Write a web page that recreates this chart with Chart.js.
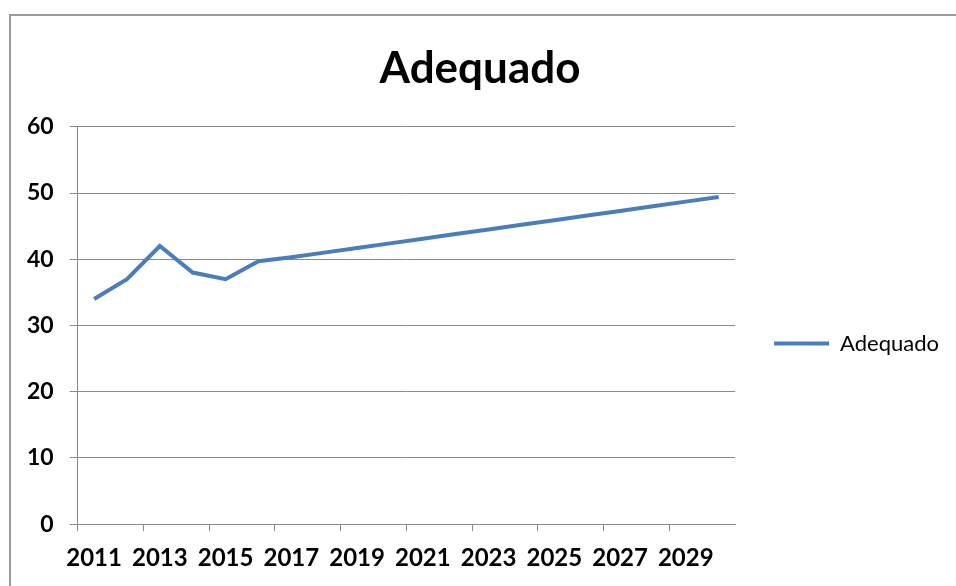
<!DOCTYPE html>
<html>
<head>
<meta charset="utf-8">
<title>Adequado</title>
<script src="https://cdn.jsdelivr.net/npm/chart.js@4"></script>
<style>
  html, body { margin: 0; padding: 0; background: #fff; }
  #wrap { position: relative; width: 956px; height: 586px; overflow: hidden; }
  #frame {
    position: absolute; left: 9px; top: 14px; width: 1000px; height: 700px;
    border-left: 2px solid #9a9a9a; border-top: 2px solid #9a9a9a;
  }
  #chart { position: absolute; left: 0; top: 0; }
</style>
</head>
<body>
<div id="wrap">
  <div id="frame"></div>
  <canvas id="chart" width="956" height="586"></canvas>
</div>
<script>
// Data
const years = ['2011', '2012', '2013', '2014', '2015', '2016', '2017', '2018', '2019', '2020',
               '2021', '2022', '2023', '2024', '2025', '2026', '2027', '2028', '2029', '2030'];
const adequado = [34, 37, 42, 38, 37, 39.7, 40.3, 41.0, 41.7, 42.4,
                  43.1, 43.8, 44.5, 45.2, 45.9, 46.6, 47.3, 48.0, 48.7, 49.4];
const yTicks = [0, 10, 20, 30, 40, 50, 60];

const lineColor = '#4a7ebb';
const gridColor = '#8a8a8a';

const ctx = document.getElementById('chart');

new Chart(ctx, {
    type: 'line',
    data: {
        labels: years,
        datasets: [{
            label: 'Adequado',
            data: adequado,
            borderColor: lineColor,
            backgroundColor: lineColor,
            borderWidth: 4,
            pointRadius: 0,
            tension: 0,
            fill: false
        }]
    },
    options: {
        responsive: false,
        animation: false,
        layout: {
            padding: { top: 0, left: 11, right: 7, bottom: 0 }
        },
        plugins: {
            title: {
                display: true,
                text: 'Adequado',
                color: '#000',
                font: { family: 'Lato', size: 44, weight: 'bold', lineHeight: 1.2 },
                padding: { top: 42, bottom: 32 }
            },
            legend: {
                position: 'right',
                align: 'center',
                title: {
                    display: true,
                    text: '',
                    padding: { top: 50, bottom: 50 },
                    font: { size: 1, lineHeight: 1 }
                },
                labels: {
                    boxWidth: 55,
                    boxHeight: 4,
                    padding: 39,
                    color: '#000',
                    font: { family: 'Lato', size: 22 },
                    generateLabels: chart =>
                        Chart.defaults.plugins.legend.labels.generateLabels(chart)
                            .map(item => ({ ...item, lineWidth: 0 }))
                }
            },
            tooltip: { enabled: false }
        },
        scales: {
            x: {
                offset: true,
                border: { color: gridColor, width: 1 },
                grid: {
                    offset: true,
                    drawOnChartArea: false,
                    drawTicks: true,
                    tickLength: 7,
                    color: c => (c.index % 2 === 0 ? gridColor : 'rgba(0,0,0,0)')
                },
                ticks: {
                    autoSkip: false,
                    maxRotation: 0,
                    padding: 13,
                    color: '#000',
                    font: { family: 'Lato', size: 24, weight: 'bold' },
                    callback: function(value, index) {
                        return index % 2 === 0 ? this.getLabelForValue(value) : '';
                    }
                }
            },
            y: {
                min: yTicks[0],
                max: yTicks[yTicks.length - 1],
                border: { color: gridColor, width: 1 },
                grid: {
                    color: gridColor,
                    drawTicks: true,
                    tickLength: 8
                },
                afterBuildTicks: axis => {
                    axis.ticks = yTicks.map(v => ({ value: v }));
                },
                ticks: {
                    padding: 16,
                    color: '#000',
                    font: { family: 'Lato', size: 23, weight: 'bold' }
                }
            }
        }
    }
});
</script>
</body>
</html>
